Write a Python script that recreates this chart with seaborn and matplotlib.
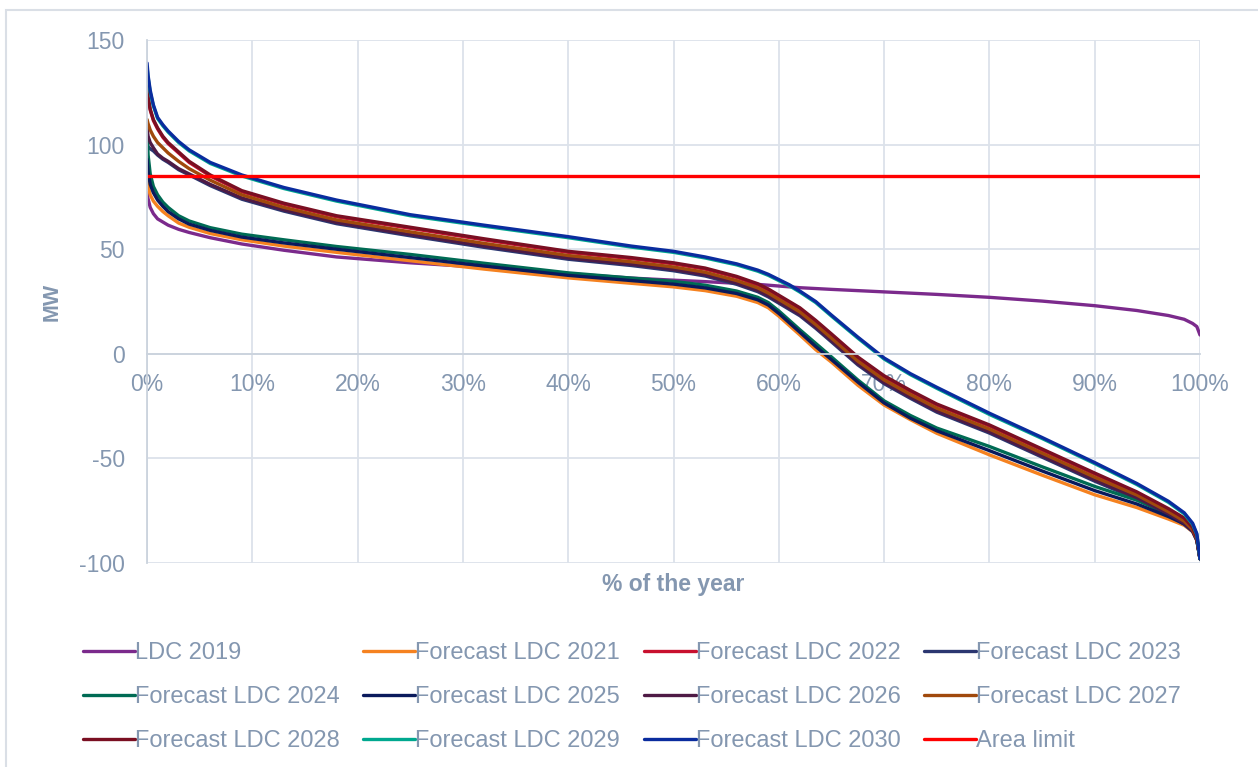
import matplotlib
matplotlib.use("Agg")
import matplotlib.pyplot as plt
import seaborn as sns
import pandas as pd
from matplotlib.patches import Rectangle

# % of the year where each curve value was read
pct = [0, 0.1, 0.3, 0.6, 1, 1.5, 2, 3, 4, 6, 9, 13, 18, 25, 32, 40, 46, 50, 53, 56,
       58, 59, 60, 61, 62, 63.5, 65, 67.5, 70, 72.5, 75, 80, 85, 90, 94, 97, 98.5, 99.3, 99.7, 100]

ldc_2019 = [77, 74, 70, 67, 64.5, 63, 61.5, 59.5, 58, 55.5, 52.5, 49.5, 46.3, 43.5, 41.3, 38.3, 36.2, 35.2, 34.5, 33.7,
            33.2, 32.8, 32.4, 32, 31.6, 31.2, 30.8, 30.2, 29.6, 29, 28.4, 27, 25.2, 23, 20.7, 18.3, 16.5, 14.5, 13, 9]
fc_2021 = [83, 80, 76, 73, 70.5, 68, 66, 62.5, 60.5, 57.5, 54.5, 51.5, 48.5, 44.5, 40.5, 36.3, 33.7, 32, 30.2, 27.5,
           24.5, 22, 18, 13.5, 9, 2, -4, -15, -24.5, -31.5, -38, -48.3, -58, -67.4, -73.5, -79, -82, -85, -89, -98]
fc_2022 = [126, 122, 116.5, 111.5, 107.5, 103.5, 100.5, 96, 91.5, 85, 77.5, 71.5, 65.5, 60, 54.5, 48.5, 45.5, 43, 40.5, 36.5,
           33, 30.5, 27.5, 24.5, 21.5, 15.5, 9, -2, -11, -18, -24.5, -34.5, -46, -57.5, -66.5, -74.5, -79, -83.5, -88.5, -98]
fc_2023 = [100, 99, 98, 97, 95, 93, 91.5, 88, 85.5, 80.4, 73.9, 68.2, 62.2, 56.4, 50.9, 45.2, 42.2, 39.7, 37.2, 33.2,
           29.7, 27.2, 24.2, 21.2, 18.2, 12.2, 5.7, -5.3, -14.3, -21.3, -27.9, -37.9, -49.4, -60.9, -69.4, -77, -81.5, -85, -89.3, -98]
fc_2024 = [107, 95, 86, 80, 76, 72.5, 70, 66, 63.5, 60.3, 57.2, 54.5, 51.3, 47.5, 43.3, 38.7, 36.2, 34.6, 32.8, 30,
           27, 24.5, 20.5, 16, 11.5, 5, -1.5, -12.5, -22.5, -29.5, -35.5, -44.3, -54, -63.4, -70, -76.5, -80.5, -84, -88.5, -98]
fc_2025 = [93, 87, 81, 77, 73.5, 70.5, 68, 64.5, 62, 59, 55.8, 53, 50, 46, 42, 37.5, 35, 33.3, 31.5, 28.8,
           25.8, 23.3, 19.3, 14.8, 10.3, 3.5, -2.8, -13.5, -23.5, -30.8, -36.8, -46.3, -56, -65.4, -71.8, -77.8, -81.3, -84.5, -88.8, -98]
fc_2026 = [108, 104, 101, 98.5, 95.5, 93.5, 92, 88.5, 86, 81, 74.5, 68.8, 62.8, 57, 51.5, 45.8, 42.8, 40.3, 37.8, 33.8,
           30.3, 27.8, 24.8, 21.8, 18.8, 12.8, 6.3, -4.7, -13.7, -20.7, -27.3, -37.3, -48.8, -60.3, -68.8, -76.5, -81, -84.7, -89, -98]
fc_2027 = [112, 110, 107, 104, 101, 98.5, 96, 92, 88.5, 83, 76, 70, 64, 58.3, 52.8, 47, 44, 41.5, 39, 35,
           31.5, 29, 26, 23, 20, 14, 7.5, -3.5, -12.5, -19.5, -26, -36, -47.5, -59, -67.5, -75.5, -80, -84, -88.5, -98]
fc_2028 = [128, 123, 117, 112, 108, 104, 101, 96.5, 92, 85.5, 78, 72, 66, 60.5, 55, 49, 46, 43.5, 41, 37,
           33.5, 31, 28, 25, 22, 16, 9.5, -1.5, -10.5, -17.5, -24, -34, -45.5, -57, -66, -74, -78.5, -83, -88, -98]
fc_2029 = [137, 132, 125, 118.5, 112.5, 109, 106, 101, 97, 91, 85, 79, 73, 66, 61, 55.5, 51, 48.5, 45.8, 42.5,
           39.5, 37.5, 35, 32.5, 29.5, 24.5, 18, 7.5, -2.5, -10, -16.5, -29, -40.5, -52.5, -62.5, -71, -76.5, -81.5, -86.5, -98]
fc_2030 = [139, 133, 126, 119, 113, 109.5, 106.5, 101.5, 97.5, 91.5, 85.5, 79.5, 73.5, 66.5, 61.5, 56, 51.5, 49, 46.3, 43,
           40, 38, 35.5, 33, 30, 25, 18.5, 8, -2, -9.5, -16, -28.4, -40, -52, -62, -70.5, -76, -81, -86, -98]
area_limit = 85

series_names = ["LDC 2019", "Forecast LDC 2021", "Forecast LDC 2022", "Forecast LDC 2023",
                "Forecast LDC 2024", "Forecast LDC 2025", "Forecast LDC 2026", "Forecast LDC 2027",
                "Forecast LDC 2028", "Forecast LDC 2029", "Forecast LDC 2030"]
series_values = [ldc_2019, fc_2021, fc_2022, fc_2023, fc_2024, fc_2025, fc_2026, fc_2027,
                 fc_2028, fc_2029, fc_2030]
colors = ["#7B2A8C", "#F58220", "#C8102E", "#2B3670", "#006B54", "#0A1A5C", "#4E1A45",
          "#A0490C", "#7A0F22", "#00A88F", "#0A2C9E"]

text_col = "#8497B0"
grid_col = "#DCE2EA"

rows = []
for name, vals in zip(series_names, series_values):
    assert len(vals) == len(pct), name
    for p, v in zip(pct, vals):
        rows.append({"pct": p / 100, "MW": v, "series": name})
df = pd.DataFrame(rows)

sns.set_style("white")
plt.rcParams['font.family'] = ['Liberation Sans', 'DejaVu Sans']
plt.rcParams['axes.unicode_minus'] = False

fig = plt.figure(figsize=(12.58, 7.67), dpi=100)
ax = fig.add_axes([0.1169, 0.2660, 0.9539 - 0.1169, 0.9478 - 0.2660])

fig.patches.append(Rectangle((6 / 1258, -0.1), 1.2, 1 - 10 / 767 + 0.1, transform=fig.transFigure,
                             fill=False, edgecolor="#DADFE6", linewidth=1.5))

sns.lineplot(data=df, x="pct", y="MW", hue="series", palette=dict(zip(series_names, colors)),
             hue_order=series_names, linewidth=2.4, ax=ax, sort=False, estimator=None)
ax.axhline(area_limit, color="#FF0000", linewidth=2.4, label="Area limit")

ax.set_xlim(0, 1)
ax.set_ylim(-100, 150)
ax.set_xticks([i / 10 for i in range(11)])
ax.set_xticklabels([f"{i * 10}%" for i in range(11)])
ax.set_yticks([-100, -50, 0, 50, 100, 150])
ax.grid(True, color=grid_col, linewidth=1.3)
ax.set_axisbelow(True)

for s in ["top", "right"]:
    ax.spines[s].set_visible(False)
ax.spines["bottom"].set_position(("data", 0))
ax.spines["bottom"].set_color("#CBD3DD")
ax.spines["left"].set_color("#CBD3DD")
ax.spines["bottom"].set_linewidth(1.3)
ax.spines["left"].set_linewidth(1.3)
ax.tick_params(axis="both", length=0, labelsize=16.5, labelcolor=text_col)
ax.tick_params(axis="x", pad=14)
ax.tick_params(axis="y", pad=16)

ax.set_xlabel("")
ax.set_ylabel("MW", fontsize=15.5, fontweight="bold", color=text_col, labelpad=12)
fig.text(0.535, 1 - 585 / 767, "% of the year", ha="center", va="center",
         fontsize=16.5, fontweight="bold", color=text_col)

handles, labels = ax.get_legend_handles_labels()
if ax.get_legend() is not None:
    ax.get_legend().remove()
order = [r * 4 + c for c in range(4) for r in range(3)]
leg = fig.legend([handles[i] for i in order], [labels[i] for i in order],
                 loc="upper left", bbox_to_anchor=(83 / 1258, 1 - 642 / 767), ncol=4,
                 frameon=False, fontsize=17, labelcolor=text_col, handlelength=2.2,
                 handletextpad=0.0, columnspacing=1.0, labelspacing=0.93, borderpad=0,
                 borderaxespad=0)

fig.savefig("out.png", dpi=100, facecolor="white")
